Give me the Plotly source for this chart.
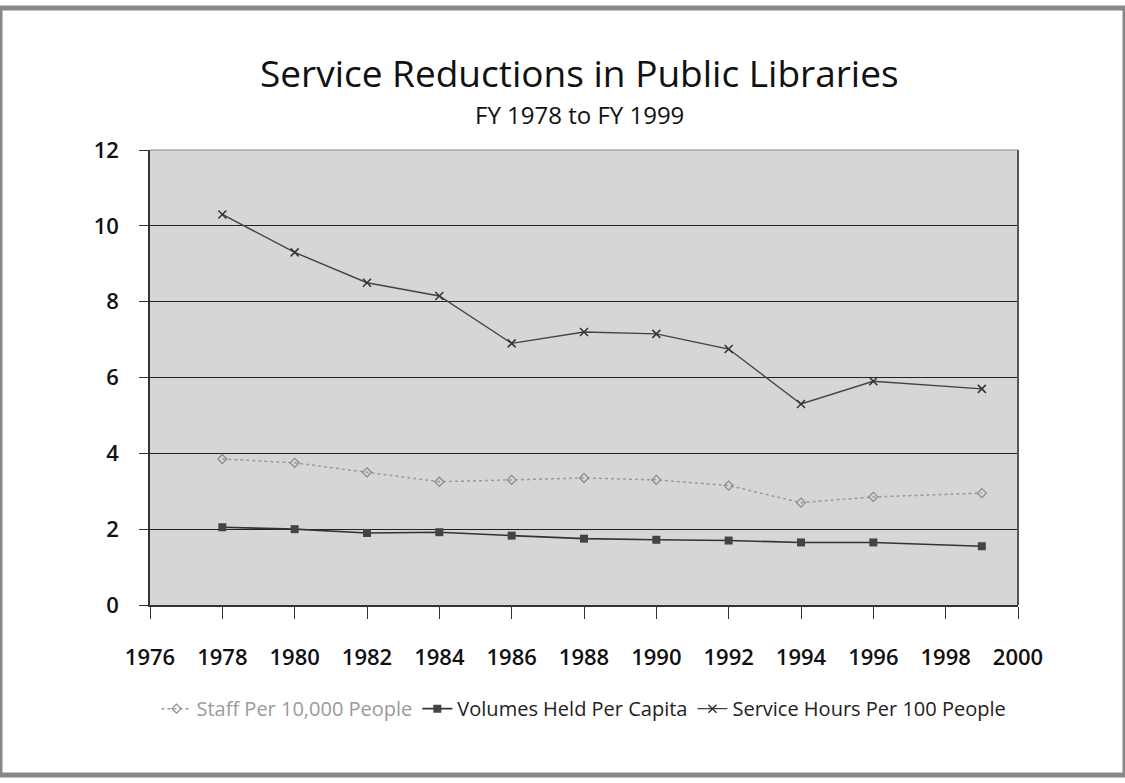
import plotly.graph_objects as go

years = [1978, 1980, 1982, 1984, 1986, 1988, 1990, 1992, 1994, 1996, 1999]
staff = [3.85, 3.75, 3.5, 3.25, 3.3, 3.35, 3.3, 3.15, 2.7, 2.85, 2.95]
volumes = [2.05, 2.0, 1.9, 1.92, 1.83, 1.75, 1.72, 1.7, 1.65, 1.65, 1.55]
service = [10.3, 9.3, 8.5, 8.15, 6.9, 7.2, 7.15, 6.75, 5.3, 5.9, 5.7]
x_ticks = list(range(1976, 2001, 2))
y_ticks = [0, 2, 4, 6, 8, 10, 12]

fig = go.Figure()
fig.add_trace(go.Scatter(
    x=years, y=staff, mode="lines+markers",
    name="<span style='color:#9a9a9a'>Staff Per 10,000 People</span>",
    line=dict(color="#9a9a9a", width=1.5, dash="dot"),
    marker=dict(symbol="diamond-open", size=7, color="#8a8a8a", line=dict(width=1.2))))
fig.add_trace(go.Scatter(
    x=years, y=volumes, mode="lines+markers",
    name="Volumes Held Per Capita",
    line=dict(color="#333333", width=1.6),
    marker=dict(symbol="square", size=8, color="#444444")))
fig.add_trace(go.Scatter(
    x=years, y=service, mode="lines+markers",
    name="Service Hours Per 100 People",
    line=dict(color="#444444", width=1.4),
    marker=dict(symbol="x-thin-open", size=8, color="#333333", line=dict(width=1.5))))

fig.update_layout(
    width=1125, height=783,
    paper_bgcolor="white", plot_bgcolor="#d6d6d6",
    margin=dict(l=150, r=107, t=150, b=178),
    font=dict(family="Open Sans, DejaVu Sans", color="#111111"),
    showlegend=True,
    legend=dict(orientation="h", x=0.5, xanchor="center", y=-0.185, yanchor="top",
                font=dict(size=20, color="#222222"), bgcolor="rgba(0,0,0,0)",
                itemwidth=30),
)
fig.add_annotation(text="Service Reductions in Public Libraries", xref="paper", yref="paper",
                   x=0.495, y=1.0, yshift=78, yanchor="middle", showarrow=False,
                   font=dict(size=37, color="#111111"))
fig.add_annotation(text="FY 1978 to FY 1999", xref="paper", yref="paper",
                   x=0.495, y=1.0, yshift=36, yanchor="middle", showarrow=False,
                   font=dict(size=24, color="#111111"))

fig.update_xaxes(range=[1976, 2000], tickvals=x_ticks, ticks="outside", ticklen=12,
                 tickcolor="#333", showgrid=False, showline=True, linecolor="#333",
                 linewidth=1.5, zeroline=False, ticklabelstandoff=20,
                 tickfont=dict(size=22, color="#111", weight=600), mirror=False)
fig.update_yaxes(range=[0, 12], tickvals=y_ticks, ticks="outside", ticklen=9,
                 tickcolor="#333", showgrid=True, gridcolor="#222", gridwidth=1.2,
                 showline=True, linecolor="#333", linewidth=1.5, zeroline=False,
                 ticklabelstandoff=16, tickfont=dict(size=22, color="#111", weight=600))

fig.add_shape(type="line", xref="paper", yref="paper", x0=1, x1=1, y0=0, y1=1,
              line=dict(color="#555", width=2))
fig.add_shape(type="line", xref="paper", yref="paper", x0=0, x1=1, y0=1, y1=1,
              line=dict(color="#888", width=1))
# page frame
fig.add_shape(type="rect", xref="paper", yref="paper",
              x0=-150/868, x1=(1125-150)/868, y0=-(178-8)/455, y1=(455+150-8)/455,
              line=dict(color="#888888", width=5), layer="below")

fig.write_html("out.html")
